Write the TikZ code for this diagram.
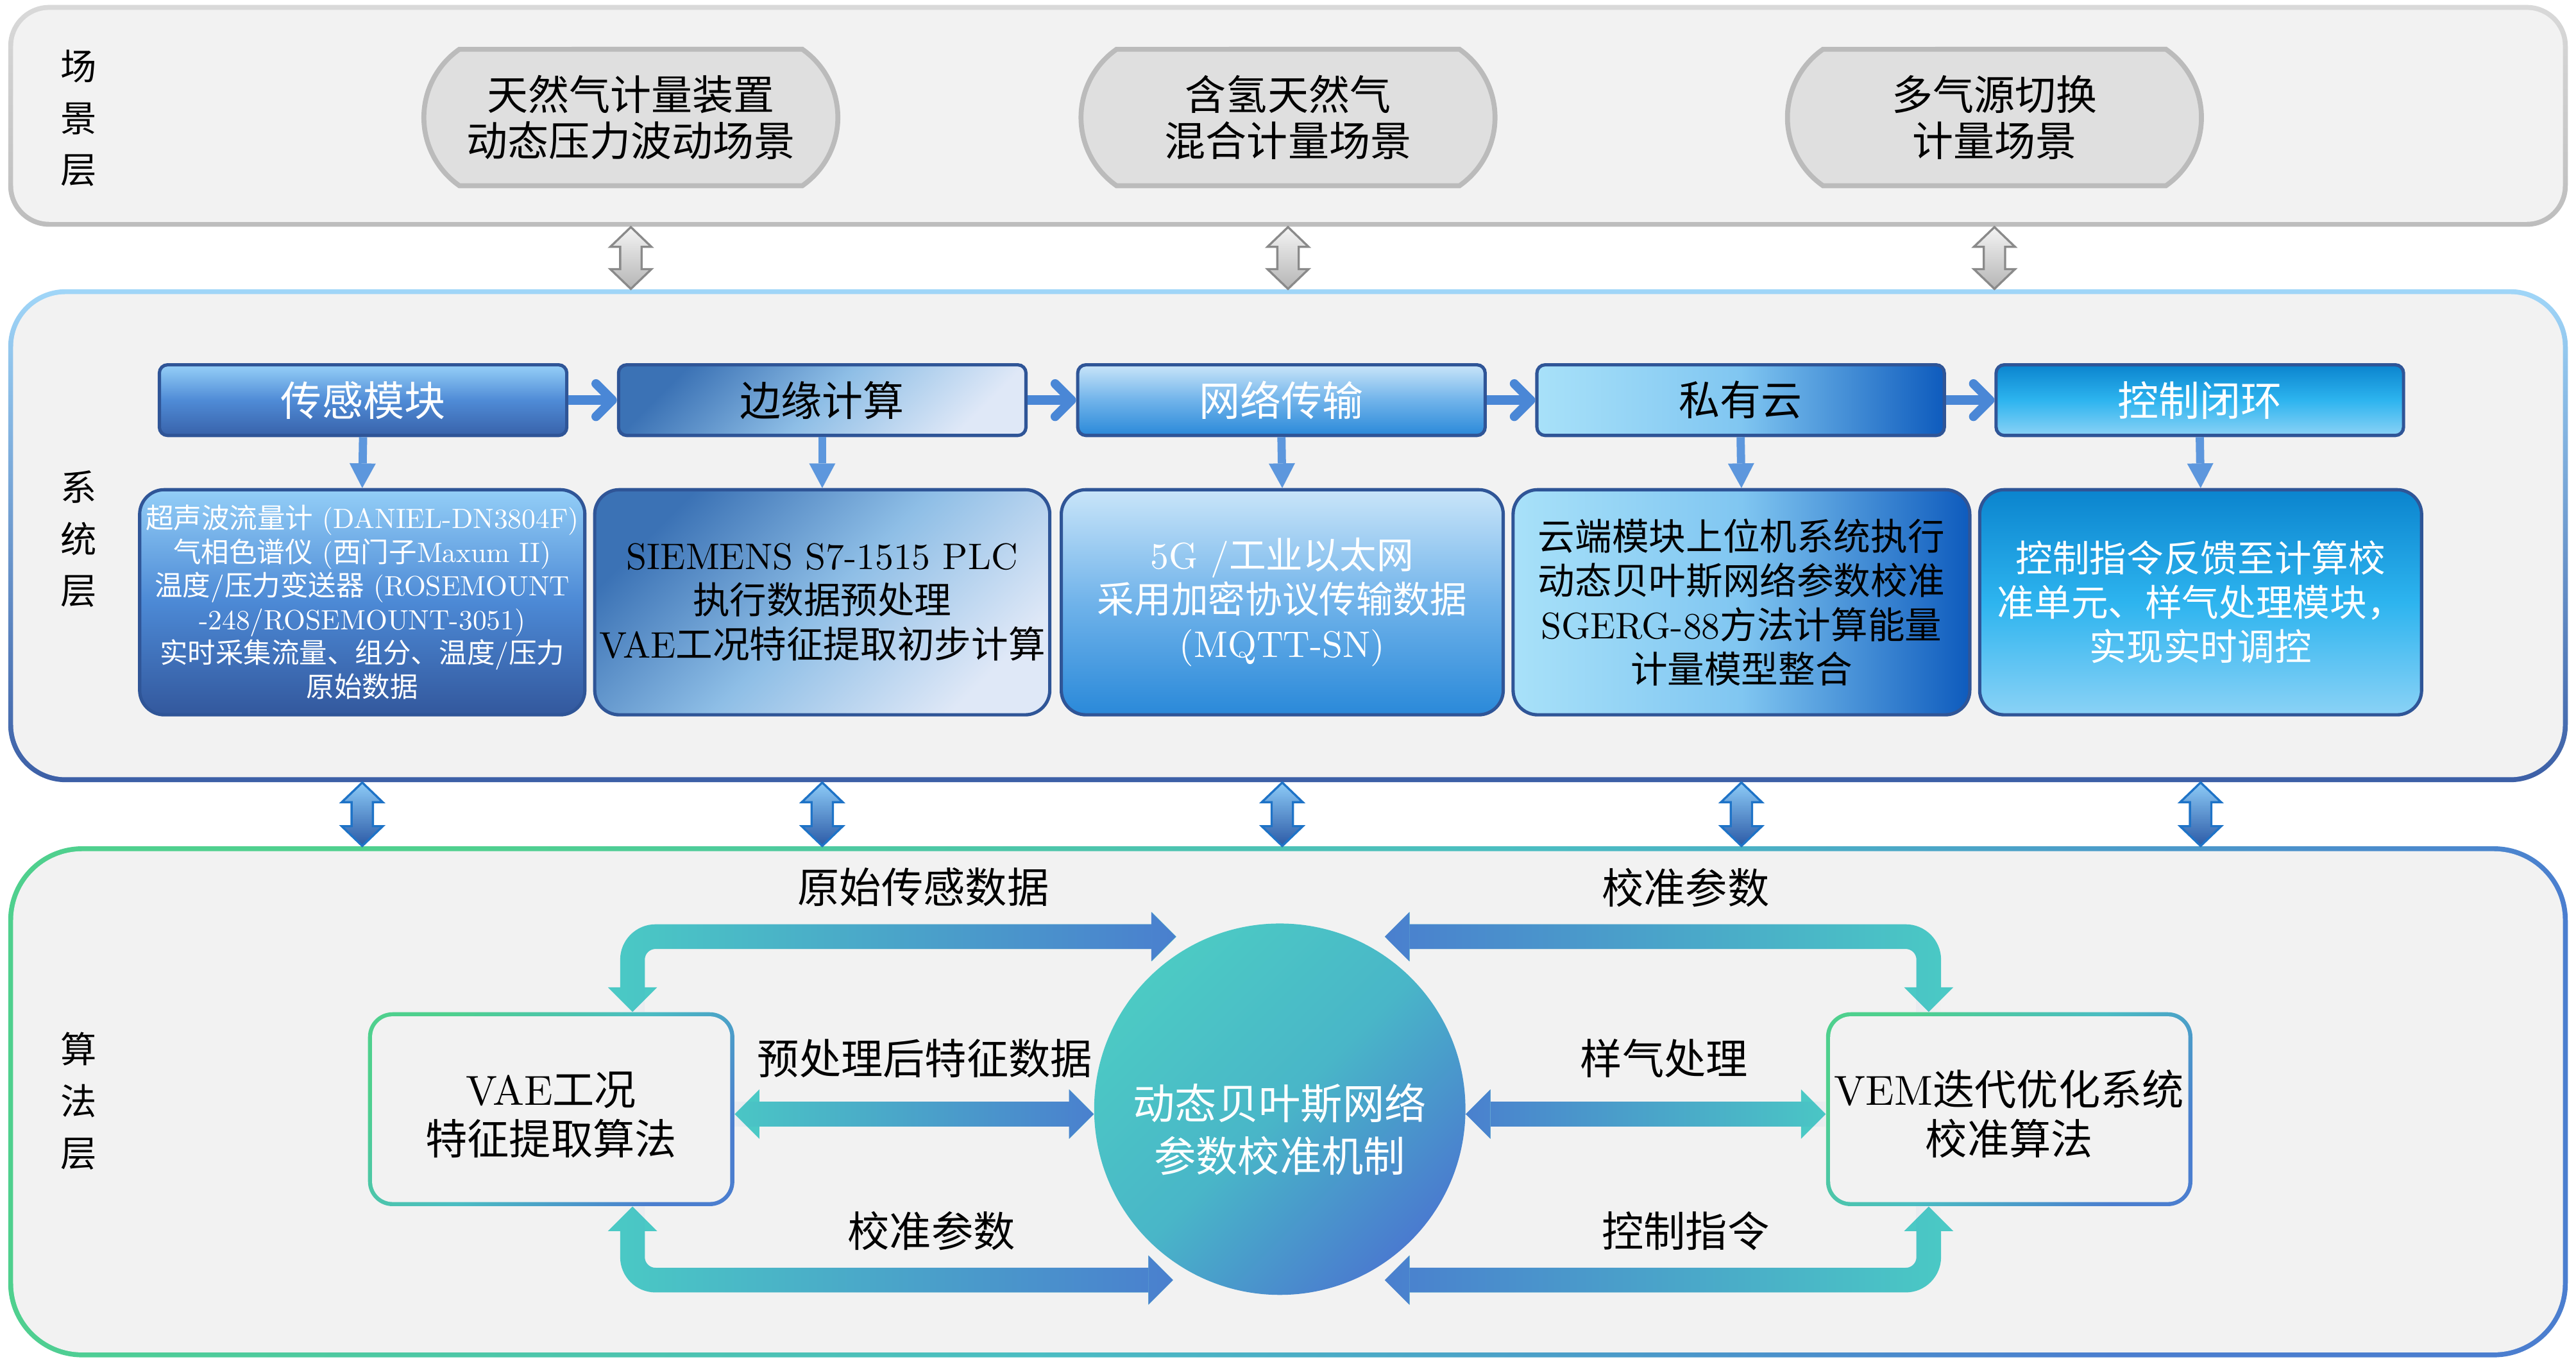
\documentclass[tikz,border=0pt]{standalone}
\usepackage{fontspec}
\setmainfont{lmroman10-regular.otf}
\newfontfamily\cjkf{Noto Sans CJK SC}
\usetikzlibrary{arrows.meta,shapes.misc,calc,fadings}
\XeTeXinterchartokenstate=1
\newXeTeXintercharclass\cjkcls
\makeatletter
\newcommand\setcjkrange[2]{\count@=#1\relax
  \loop\XeTeXcharclass\count@=\cjkcls\relax
  \ifnum\count@<#2\relax\advance\count@\@ne\repeat}
\setcjkrange{"3000}{"303F}
\setcjkrange{"4E00}{"9FFF}
\setcjkrange{"FF00}{"FFEF}
\makeatother
\XeTeXinterchartoks 0 \cjkcls = {\cjkf}
\XeTeXinterchartoks 4095 \cjkcls = {\cjkf}
\XeTeXinterchartoks \cjkcls 0 = {\rmfamily}
\XeTeXinterchartoks \cjkcls 4095 = {\rmfamily}
\XeTeXinterchartoks 4095 0 = {\rmfamily}

\definecolor{lay}{HTML}{F2F2F2}
\definecolor{scTop}{HTML}{D9D9D9}
\definecolor{scBot}{HTML}{BDBDBD}
\definecolor{scnfill}{HTML}{DFDFDF}
\definecolor{scnline}{HTML}{BBBBBB}
\definecolor{syTop}{HTML}{A0D6F8}
\definecolor{syBot}{HTML}{3C5FA6}
\definecolor{gT}{HTML}{4FD08E}
\definecolor{gM}{HTML}{4BBDC2}
\definecolor{gB}{HTML}{4B7ECF}
\definecolor{hdb}{HTML}{2F5597}
\definecolor{h1T}{HTML}{96D0F8}
\definecolor{h1M}{HTML}{4F8BD6}
\definecolor{h1B}{HTML}{3862AA}
\definecolor{c1T}{HTML}{93CEF7}
\definecolor{c1M}{HTML}{4C89D5}
\definecolor{c1B}{HTML}{33589D}
\definecolor{c2T}{HTML}{3B72B5}
\definecolor{c2M}{HTML}{8EBEE6}
\definecolor{c2B}{HTML}{DFE8F7}
\definecolor{c3T}{HTML}{C9E5F9}
\definecolor{c3M}{HTML}{70B3EA}
\definecolor{c3B}{HTML}{2A89D9}
\definecolor{c4L}{HTML}{A8E1F9}
\definecolor{c4M}{HTML}{80C6F1}
\definecolor{c4R}{HTML}{0E5BBD}
\definecolor{c5T}{HTML}{0B84CE}
\definecolor{c5M}{HTML}{2DB4EF}
\definecolor{c5B}{HTML}{8AD2F6}
\definecolor{barTop}{HTML}{8DCBF7}
\definecolor{barBot}{HTML}{2C5AA6}
\definecolor{barline}{HTML}{1E73C7}
\definecolor{garTop}{HTML}{F4F4F4}
\definecolor{garBot}{HTML}{B5B5B5}
\definecolor{garline}{HTML}{8A8A8A}
\definecolor{arrb}{HTML}{4A87D6}
\definecolor{arrb2}{HTML}{5D97DD}
\definecolor{teal1}{HTML}{4BC9C5}
\definecolor{blue1}{HTML}{4A7ECF}
\definecolor{cirT}{HTML}{4CCAC4}
\definecolor{cirM}{HTML}{49B6C8}
\definecolor{cirB}{HTML}{4A7BCF}

\tikzfading[name=fadeR, left color=transparent!100, right color=transparent!0]
\tikzfading[name=fadeL, left color=transparent!0, right color=transparent!100]

\newcommand\vdarrow[3]{%
  \path[#1] let \p1=(#2), \p2=(#3) in
   (\x1,\y1) -- (\x1+12.5pt,\y1-12pt) -- (\x1+6.5pt,\y1-12pt) -- (\x1+6.5pt,\y2+12pt)
   -- (\x1+12.5pt,\y2+12pt) -- (\x1,\y2) -- (\x1-12.5pt,\y2+12pt) -- (\x1-6.5pt,\y2+12pt)
   -- (\x1-6.5pt,\y1-12pt) -- (\x1-12.5pt,\y1-12pt) -- cycle;}

\begin{document}
\begin{tikzpicture}[x=1pt,y=-1pt,inner sep=0pt,
  lbl/.style={align=center, font=\fontsize{25.5}{30}\selectfont},
  laylbl/.style={align=center, font=\fontsize{22}{31.5}\selectfont},
  scn/.style={rounded rectangle, rounded rectangle arc length=110, fill=scnfill, draw=scnline,
     line width=3, minimum width=252, minimum height=83, align=center, font=\fontsize{25}{28}\selectfont},
  hdr/.style={rounded corners=5, draw=hdb, line width=2, minimum width=248, minimum height=43,
     font=\fontsize{25}{28}\selectfont},
  det/.style={rounded corners=15, draw=hdb, line width=2, minimum height=137, align=center},
  hdarr/.style={draw=arrb, line width=6, -{Straight Barb[length=10pt,width=20pt,line width=5.5pt,round]}},
  dnarr/.style={draw=arrb2, line width=5, -{Triangle[length=15pt,width=16pt,line width=0pt]}},
  grayarr/.style={draw=garline, line width=1.3, top color=garTop, bottom color=garBot},
  bluearr/.style={draw=barline, line width=1.3, top color=barTop, bottom color=barBot},
  algarr/.style={line width=15, rounded corners=14, >={Triangle[length=15pt,width=30pt,line width=0pt]}},
  gbox/.style={top color=gT, bottom color=gB, middle color=gM, shading angle=45},
]
\useasboundingbox (0,0) rectangle (1568,830);
\fill[white] (0,0) rectangle (1568,830);

% ---------- layers ----------
\node[top color=scTop, bottom color=scBot, rounded corners=25, minimum width=1558, minimum height=135] (sceneO) at (784,70.5) {};
\node[fill=lay, rounded corners=22, minimum width=1552, minimum height=129] (scene) at (sceneO.center) {};

\node[top color=syTop, bottom color=syBot, rounded corners=35, minimum width=1558, minimum height=300] (sysO) at (784,326) {};
\node[fill=lay, rounded corners=32, minimum width=1552, minimum height=294] (sys) at (sysO.center) {};

\node[gbox, rounded corners=45, minimum width=1558, minimum height=311] (algO) at (784,670.5) {};
\node[fill=lay, rounded corners=42, minimum width=1552, minimum height=305] (alg) at (algO.center) {};

% ---------- layer labels ----------
\node[laylbl] (L1) at (48,72) {场\\景\\层};
\node[laylbl] (L2) at (48,328) {系\\统\\层};
\node[laylbl] (L3) at (48,670) {算\\法\\层};

% ---------- scene nodes ----------
\node[scn] (s1) at (384,71.5) {天然气计量装置\\动态压力波动场景};
\node[scn] (s2) at (784,71.5) {含氢天然气\\混合计量场景};
\node[scn] (s3) at (1214,71.5) {多气源切换\\计量场景};

% ---------- system headers ----------
\node[hdr, top color=h1T, bottom color=h1B, middle color=h1M, text=white] (h1) at (221,243.5) {传感模块};
\node[hdr, top color=c2T, bottom color=c2B, middle color=c2M, shading angle=45, text=black] (h2) at (500.5,243.5) {边缘计算};
\node[hdr, top color=c3T, bottom color=c3B, middle color=c3M, text=white] (h3) at (780,243.5) {网络传输};
\node[hdr, left color=c4L, right color=c4R, middle color=c4M, text=black] (h4) at (1059.5,243.5) {私有云};
\node[hdr, top color=c5T, bottom color=c5B, middle color=c5M, text=white] (h5) at (1339,243.5) {控制闭环};

% ---------- system details ----------
\node[det, minimum width=271, top color=c1T, bottom color=c1B, middle color=c1M, text=white,
      font=\fontsize{17}{20.5}\selectfont] (d1) at (220.5,366.5)
  {超声波流量计 (DANIEL-DN3804F)\\气相色谱仪 (西门子Maxum II)\\温度/压力变送器 (ROSEMOUNT\\-248/ROSEMOUNT-3051)\\实时采集流量、组分、温度/压力\\原始数据};
\node[det, minimum width=277, top color=c2T, bottom color=c2B, middle color=c2M, shading angle=45, text=black,
      font=\fontsize{22.5}{27}\selectfont] (d2) at (500.5,366.5)
  {SIEMENS S7-1515 PLC\\执行数据预处理\\VAE工况特征提取初步计算};
\node[det, minimum width=269, top color=c3T, bottom color=c3B, middle color=c3M, text=white,
      font=\fontsize{22.5}{27}\selectfont] (d3) at (780.5,366.5)
  {5G /工业以太网\\采用加密协议传输数据\\(MQTT-SN)};
\node[det, minimum width=278, left color=c4L, right color=c4R, middle color=c4M, text=black,
      font=\fontsize{22.5}{27}\selectfont] (d4) at (1060,366.5)
  {云端模块上位机系统执行\\动态贝叶斯网络参数校准\\SGERG-88方法计算能量\\计量模型整合};
\node[det, minimum width=269, top color=c5T, bottom color=c5B, middle color=c5M, text=white,
      font=\fontsize{22.5}{27}\selectfont] (d5) at (1339.5,366.5)
  {控制指令反馈至计算校\\准单元、样气处理模块，\\实现实时调控};

% ---------- system arrows ----------
\foreach \a/\b in {h1/h2,h2/h3,h3/h4,h4/h5}{\draw[hdarr] (\a.east) -- (\b.west);}
\foreach \i in {1,...,5}{\draw[dnarr] (h\i.south) -- (d\i.north);}

% ---------- layer connectors ----------
\foreach \s in {s1,s2,s3}{\vdarrow{grayarr}{\s |- sceneO.south}{\s |- sysO.north}}
\foreach \d in {d1,d2,d3,d4,d5}{\vdarrow{bluearr}{\d |- sysO.south}{\d |- algO.north}}

% ---------- algorithm layer ----------
\node[gbox, rounded corners=15, minimum width=223, minimum height=118] (vae) at (335.5,675) {};
\node[fill=lay, rounded corners=12.5, minimum width=218, minimum height=113, align=center,
      font=\fontsize{25.5}{30}\selectfont] (vaeIn) at (vae.center) {\rule{0pt}{27pt}VAE工况\\特征提取算法};
\node[gbox, rounded corners=15, minimum width=223, minimum height=118] (vem) at (1223,675) {};
\node[fill=lay, rounded corners=12.5, minimum width=218, minimum height=113, align=center,
      font=\fontsize{25.5}{30}\selectfont] (vemIn) at (vem.center) {\rule{0pt}{27pt}VEM迭代优化系统\\校准算法};
\node[circle, minimum size=226, top color=cirT, bottom color=cirB, middle color=cirM, shading angle=45,
      text=white, align=center, font=\fontsize{25.5}{32}\selectfont] (circ) at (779,675)
  {\rule{0pt}{46pt}动态贝叶斯网络\\参数校准机制};

\node[lbl] (t1) at (562,540) {原始传感数据};
\node[lbl] (t2) at (1026,540) {校准参数};
\node[lbl] (t3) at (563,644) {预处理后特征数据};
\node[lbl] (t4) at (1013,644) {样气处理};
\node[lbl] (t5) at (567,749) {校准参数};
\node[lbl] (t6) at (1026,749) {控制指令};

\coordinate (pTL) at ($(circ.center)+(-63,-105)$);
\coordinate (pTR) at ($(circ.center)+(64,-105)$);
\coordinate (pBL) at ($(circ.center)+(-65,104)$);
\coordinate (pBR) at ($(circ.center)+(64,104)$);
\coordinate (qTL) at ($(vae.north)+(49.5,0)$);
\coordinate (qBL) at ($(vae.south)+(49.5,0)$);
\coordinate (qTR) at ($(vem.north)+(-49,0)$);
\coordinate (qBR) at ($(vem.south)+(-49,0)$);
\coordinate (mL1) at ($(vae.east)+(0,3)$);
\coordinate (mL2) at ($(circ.west)+(0,3)$);
\coordinate (mR1) at ($(circ.east)+(0,3)$);
\coordinate (mR2) at ($(vem.west)+(0,3)$);

\draw[algarr, teal1, <->] (pTL) -| (qTL);
\draw[algarr, blue1, <-, path fading=fadeR] (pTL) -| (qTL);
\draw[algarr, teal1, <->] (pBL) -| (qBL);
\draw[algarr, blue1, <-, path fading=fadeR] (pBL) -| (qBL);
\draw[algarr, teal1, <->] (pTR) -| (qTR);
\draw[algarr, blue1, <-, path fading=fadeL] (pTR) -| (qTR);
\draw[algarr, teal1, <->] (pBR) -| (qBR);
\draw[algarr, blue1, <-, path fading=fadeL] (pBR) -| (qBR);

\draw[algarr, teal1, <->] (mL1) -- (mL2);
\draw[algarr, blue1, ->, path fading=fadeR] (557,663) (557,693) (mL1) -- (mL2);
\draw[algarr, teal1, <->] (mR1) -- (mR2);
\draw[algarr, blue1, ->, path fading=fadeL] (1000,663) (1000,693) (mR2) -- (mR1);
\end{tikzpicture}
\end{document}
